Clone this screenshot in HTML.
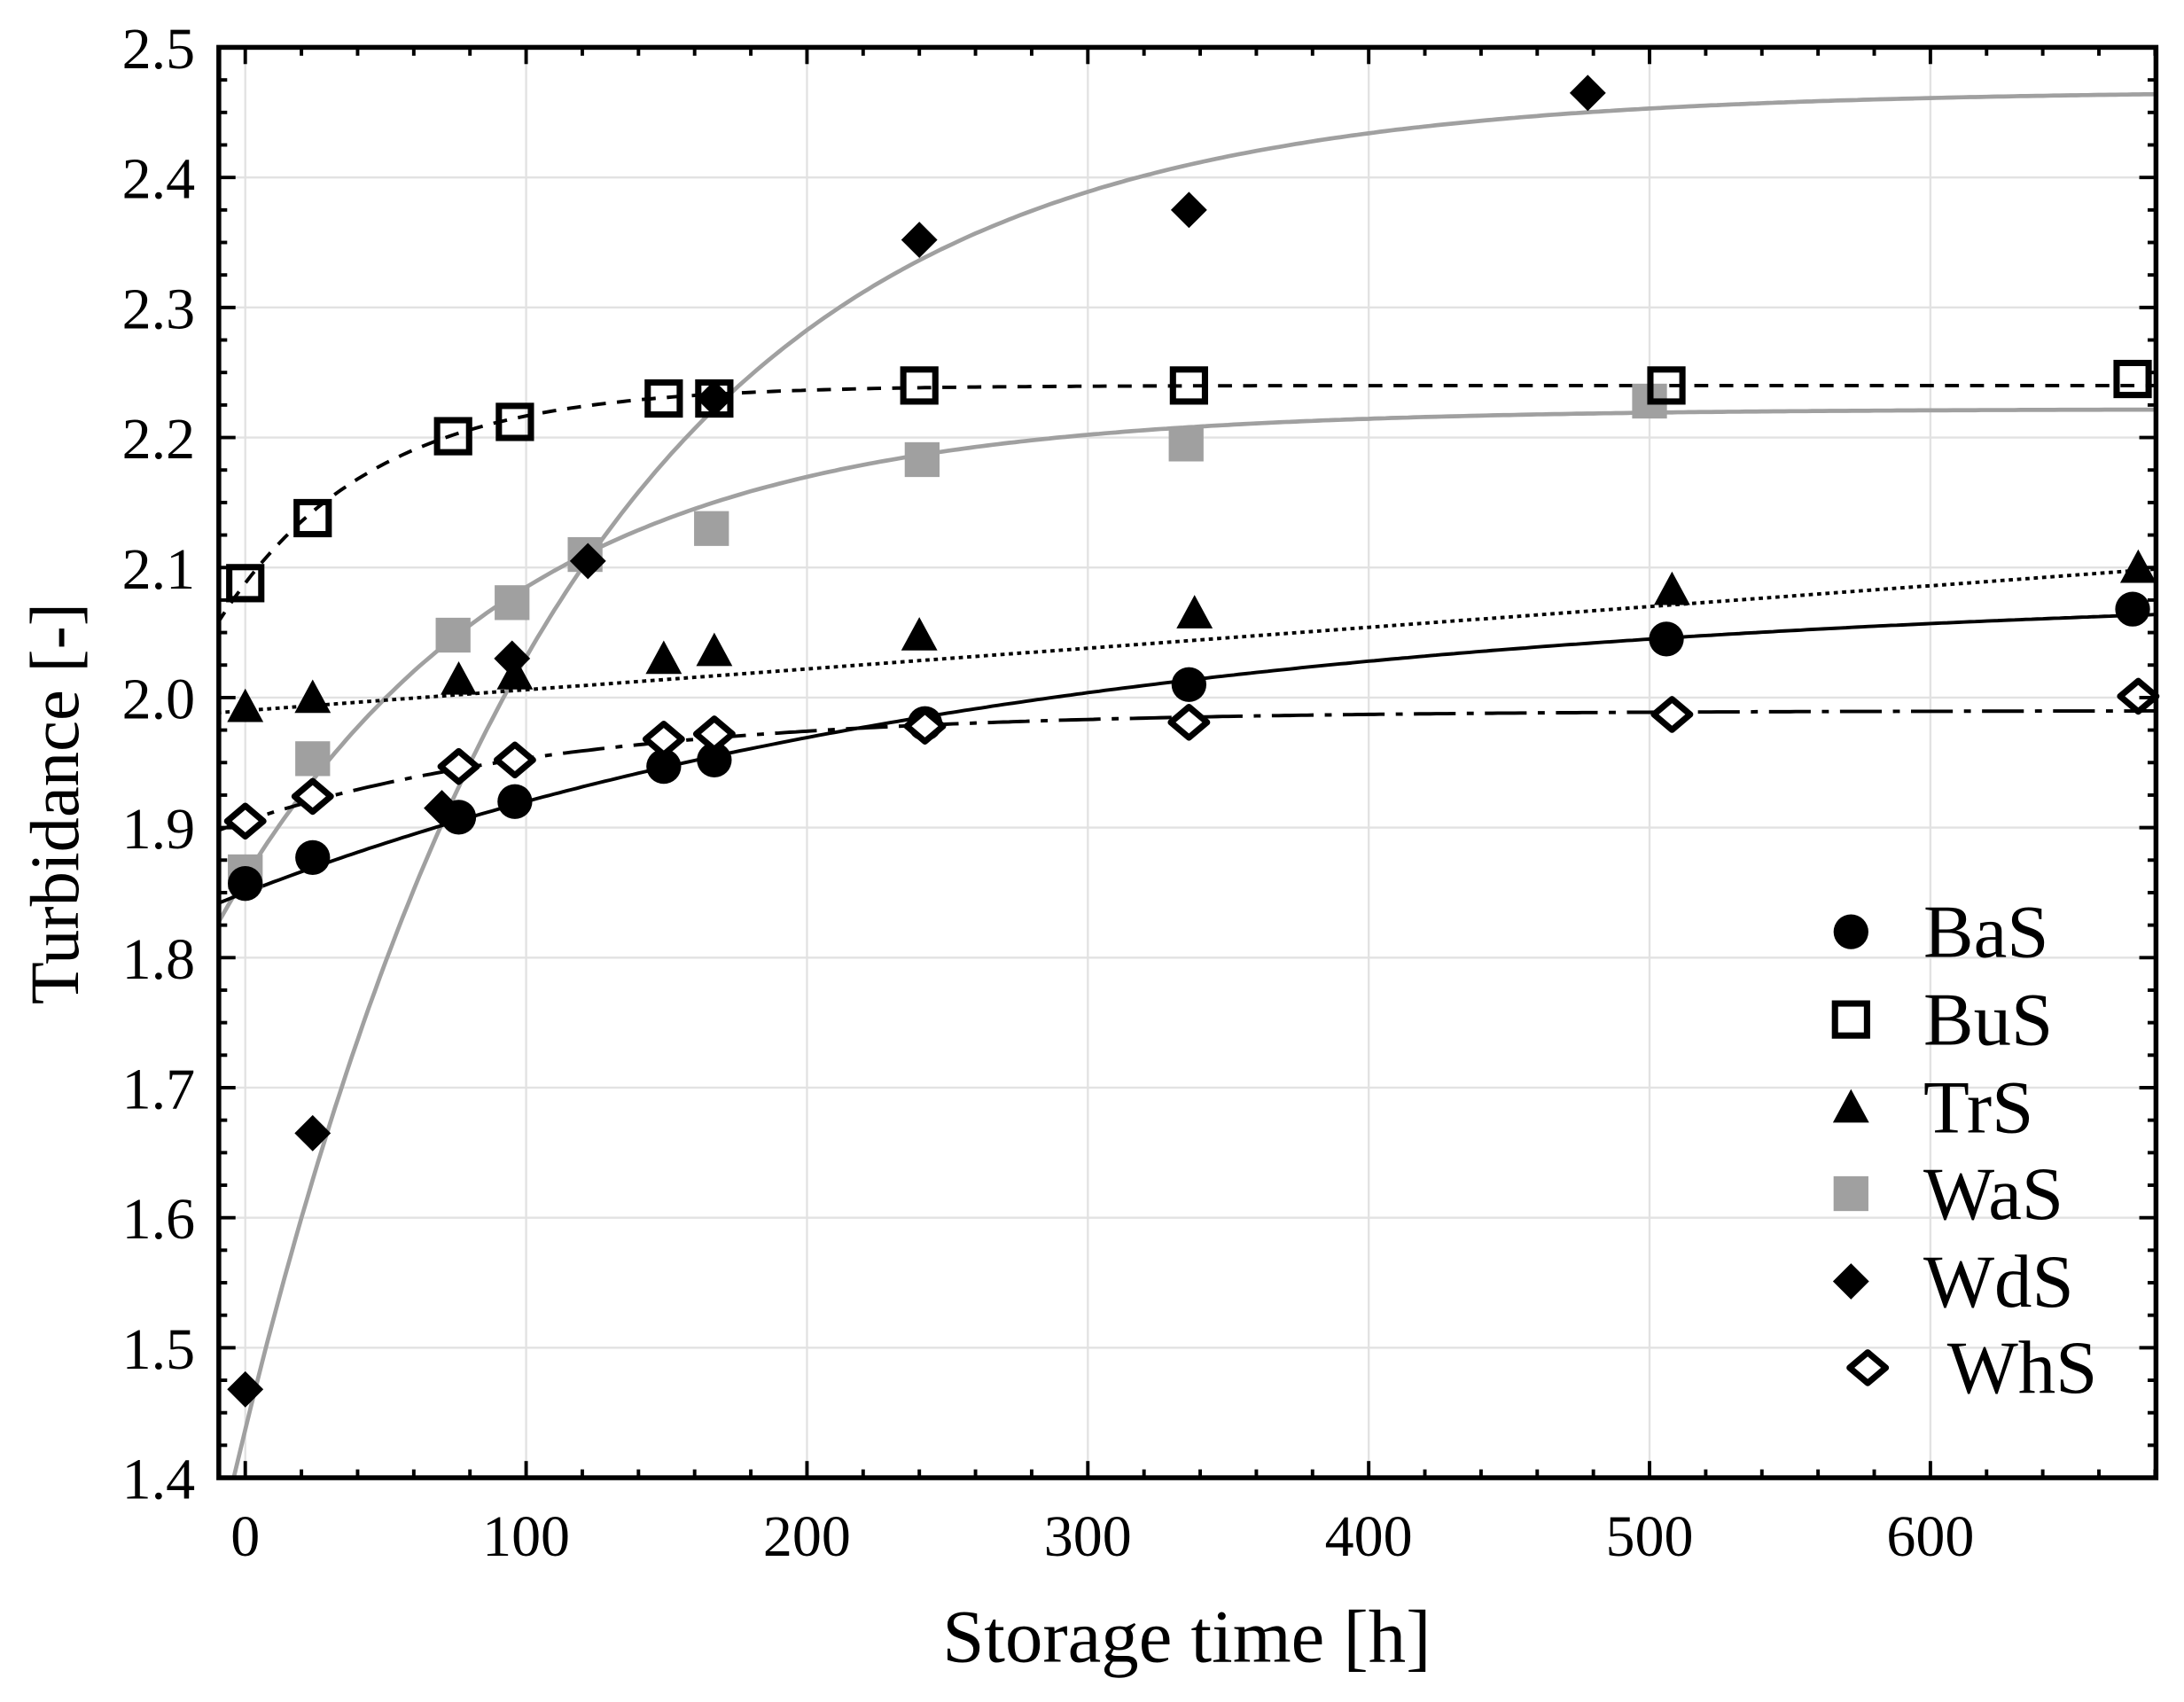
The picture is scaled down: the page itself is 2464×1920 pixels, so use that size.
<!DOCTYPE html>
<html><head><meta charset="utf-8"><style>
html,body{margin:0;padding:0;background:#fff;}
svg{display:block;}
text{font-family:"Liberation Serif",serif;fill:#000;}
</style></head><body>
<svg id="s" width="2464" height="1920" viewBox="0 0 1568 1222" xmlns="http://www.w3.org/2000/svg">
<defs><clipPath id="c"><rect x="157" y="34" width="1391" height="1027"/></clipPath></defs>
<g id="grid"></g>
<g id="curves" clip-path="url(#c)"></g>
<g id="pts"></g>
<rect x="157" y="34" width="1391" height="1027" fill="none" stroke="#000" stroke-width="3.5"/>
<g id="ticks"></g>
<text x="852" y="1193" font-size="54" text-anchor="middle">Storage time [h]</text>
<text transform="translate(56,577) rotate(-90)" font-size="50" text-anchor="middle">Turbidance [-]</text>
<g id="leg"></g>
</svg>
<script>
var NS="http://www.w3.org/2000/svg";
function X(v){return 176+v*2.0167;}
function Y(v){return 1061-(v-1.4)*933.6;}
function el(p,t,a,txt){var e=document.createElementNS(NS,t);for(var k in a)e.setAttribute(k,a[k]);if(txt!==undefined)e.textContent=txt;document.getElementById(p).appendChild(e);return e;}
for(var i=0;i<=6;i++){var x=X(i*100);el('grid','line',{x1:x,x2:x,y1:34,y2:1061,stroke:'#e2e2e2','stroke-width':1.5});
 el('ticks','text',{x:x,y:1117,'font-size':42,'text-anchor':'middle'},String(i*100));}
for(var v=0;v<=680;v+=20){var x=X(v);var maj=(v%100==0);var L=maj?12:6;
 el('ticks','line',{x1:x,x2:x,y1:1061,y2:1061-L,stroke:'#000','stroke-width':2.5});
 el('ticks','line',{x1:x,x2:x,y1:34,y2:34+L,stroke:'#000','stroke-width':2.5});}
for(var j=0;j<=44;j++){var v=1.4+j*0.025;var y=Y(v);var maj=(j%4==0);var L=maj?12:6;
 el('ticks','line',{x1:157,x2:157+L,y1:y,y2:y,stroke:'#000','stroke-width':2.5});
 el('ticks','line',{x1:1548,x2:1548-L,y1:y,y2:y,stroke:'#000','stroke-width':2.5});
 if(maj){ if(j>0&&j<44)el('grid','line',{x1:157,x2:1548,y1:y,y2:y,stroke:'#e2e2e2','stroke-width':1.5});
  el('ticks','text',{x:140,y:y+15,'font-size':42,'text-anchor':'end'},v.toFixed(1));}}
function curve(f,attrs){var d='';for(var t=-10;t<=682;t+=2){d+=(d?'L':'M')+X(t).toFixed(1)+','+Y(f(t)).toFixed(1);}attrs.d=d;attrs.fill='none';el('curves','path',attrs);}
curve(function(t){return 2.467-1.03*Math.exp(-0.0086*t);},{stroke:'#a0a0a0','stroke-width':3});
curve(function(t){return 2.222-0.36*Math.exp(-0.00965*t);},{stroke:'#a0a0a0','stroke-width':3});
curve(function(t){return 2.085-0.235*Math.exp(-0.00354*t);},{stroke:'#000','stroke-width':2.5});
curve(function(t){return 2.24-0.152*Math.exp(-0.0187*t);},{stroke:'#000','stroke-width':2.5,'stroke-dasharray':'10,8'});
curve(function(t){return 1.99+0.00016*t;},{stroke:'#000','stroke-width':2.5,'stroke-dasharray':'3,3'});
curve(function(t){return 1.99-0.085*Math.exp(-0.0084*t);},{stroke:'#000','stroke-width':2.5,'stroke-dasharray':'30,8,5,8'});
function mk(g,type,cx,cy,s){s=s||1;
 if(type=='circ')el(g,'circle',{cx:cx,cy:cy,r:12.5*s,fill:'#000'});
 if(type=='osq')el(g,'rect',{x:cx-11.5*s,y:cy-11.5*s,width:23*s,height:23*s,fill:'none',stroke:'#000','stroke-width':4.5});
 if(type=='tri')el(g,'polygon',{points:(cx-13*s)+','+(cy+11*s)+' '+(cx+13*s)+','+(cy+11*s)+' '+cx+','+(cy-13*s),fill:'#000'});
 if(type=='gsq')el(g,'rect',{x:cx-12.5*s,y:cy-12.5*s,width:25*s,height:25*s,fill:'#a0a0a0'});
 if(type=='dia')el(g,'polygon',{points:(cx-13*s)+','+cy+' '+cx+','+(cy-13*s)+' '+(cx+13*s)+','+cy+' '+cx+','+(cy+13*s),fill:'#000'});
 if(type=='odia')el(g,'polygon',{points:(cx-13*s)+','+cy+' '+cx+','+(cy-11*s)+' '+(cx+13*s)+','+cy+' '+cx+','+(cy+11*s),fill:'#fff',stroke:'#000','stroke-width':4.5,'stroke-linejoin':'round'});
}
var S={
gsq:[[0,1.866],[24,1.953],[74,2.048],[95,2.073],[121,2.110],[166,2.130],[241,2.183],[335,2.195],[500,2.228]],
dia:[[0,1.468],[24,1.665],[70,1.915],[95,2.030],[122,2.105],[167,2.230],[240,2.352],[336,2.375],[478,2.465],[242,1.978]],
circ:[[0,1.857],[24,1.877],[76,1.908],[96,1.920],[149,1.947],[167,1.952],[242,1.980],[336,2.010],[506,2.045],[672,2.068]],
tri:[[0,1.993],[24,2.000],[76,2.014],[96,2.018],[149,2.030],[167,2.036],[240,2.048],[338,2.065],[508,2.083],[674,2.100]],
osq:[[0,2.088],[24,2.138],[74,2.201],[96,2.212],[149,2.230],[167,2.230],[240,2.240],[336,2.240],[506,2.240],[672,2.245]],
odia:[[0,1.905],[24,1.924],[76,1.947],[96,1.952],[149,1.968],[167,1.972],[242,1.978],[336,1.981],[508,1.987],[674,2.001]]};
for(var k in S)S[k].forEach(function(p){mk('pts',k,X(p[0]),Y(p[1]));});
var L=[['circ','BaS',669,1329,1381],['osq','BuS',732,1329,1381],['tri','TrS',795,1329,1381],['gsq','WaS',857,1329,1381],['dia','WdS',920,1329,1381],['odia','WhS',982,1341,1398]];
L.forEach(function(l){mk('leg',l[0],l[3],l[2],1.0);el('leg','text',{x:l[4],y:l[2]+18,'font-size':54},l[1]);});
</script>
</body></html>
